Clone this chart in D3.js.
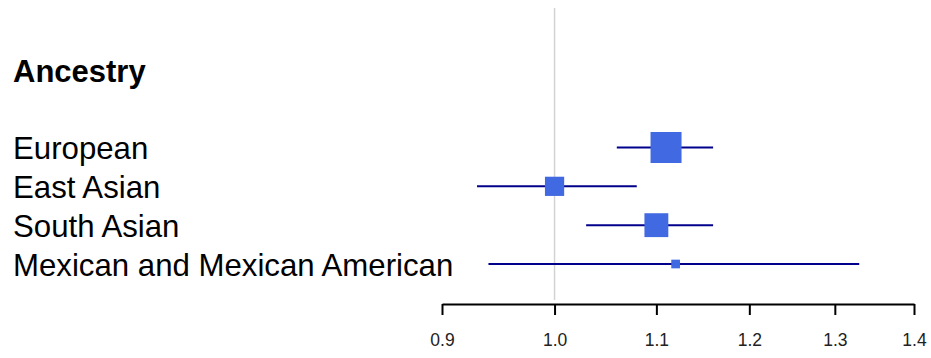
<!DOCTYPE html>
<html>
<head>
<meta charset="utf-8">
<script src="https://cdn.jsdelivr.net/npm/d3@7"></script>
<style>
	body { margin: 0; background: #fff; }
	svg { display: block; font-family: "Liberation Sans", Arial, sans-serif; }
</style>
</head>
<body>
<script>
// data
var groups = ["European", "East Asian", "South Asian", "Mexican and Mexican American"];
var estimates = [1.11, 1.00, 1.10, 1.12];
var lower = [1.06, 0.93, 1.03, 0.94];
var upper = [1.16, 1.08, 1.16, 1.33];
var weights = [1.0, 0.62, 0.77, 0.28]; // relative box size
var ticks = [0.9, 1.0, 1.1, 1.2, 1.3, 1.4];

var width = 931,
	height = 358;

var x = d3.scaleLog()
	.domain([0.9, 1.4])
	.range([442, 914]);

var y = d3.scalePoint()
	.domain(groups)
	.range([147.5, 264]);

var boxSize = d3.scaleLinear()
	.domain([0, 1])
	.range([0, 31]);

var svg = d3.select('body')
	.append('svg')
	.attr('width', width)
	.attr('height', height);

// line of no effect
svg.append('line')
	.attr('x1', x(1))
	.attr('x2', x(1))
	.attr('y1', 8)
	.attr('y2', 300)
	.attr('stroke', '#d3d3d3')
	.attr('stroke-width', 1.5);

// header + row labels
svg.append('text')
	.attr('x', 13)
	.attr('y', 82)
	.attr('font-size', 31)
	.attr('font-weight', 'bold')
	.attr('fill', '#000')
	.text('Ancestry');

svg.selectAll('.label')
	.data(groups)
	.enter().append('text')
	.attr('class', 'label')
	.attr('x', 13)
	.attr('y', function(d) { return y(d) + 11.5; })
	.attr('font-size', 31.2)
	.attr('fill', '#000')
	.text(function(d) { return d; });

// confidence intervals
var rows = svg.selectAll('.row')
	.data(groups)
	.enter().append('g')
	.attr('class', 'row')
	.attr('transform', function(d) { return 'translate(0,' + y(d) + ')'; });

rows.append('line')
	.attr('x1', function(d, i) { return x(lower[i]); })
	.attr('x2', function(d, i) { return x(upper[i]); })
	.attr('stroke', '#00008b')
	.attr('stroke-width', 2);

rows.append('rect')
	.attr('x', function(d, i) { return x(estimates[i]) - boxSize(weights[i]) / 2; })
	.attr('y', function(d, i) { return -boxSize(weights[i]) / 2; })
	.attr('width', function(d, i) { return boxSize(weights[i]); })
	.attr('height', function(d, i) { return boxSize(weights[i]); })
	.attr('fill', '#4169e1');

// x axis
var xAxis = d3.axisBottom(x)
	.tickValues(ticks)
	.tickFormat(d3.format('.1f'))
	.tickSize(11)
	.tickSizeOuter(0)
	.tickPadding(19);

var axis = svg.append('g')
	.attr('transform', 'translate(0,304)')
	.call(xAxis);

axis.select('.domain')
	.attr('stroke', '#000')
	.attr('stroke-width', 2);
axis.selectAll('.tick line')
	.attr('stroke', '#000')
	.attr('stroke-width', 2);
axis.selectAll('.tick text')
	.attr('fill', '#222')
	.attr('font-size', 17.5)
	.attr('font-family', '"Liberation Sans", Arial, sans-serif');
</script>
</body>
</html>
